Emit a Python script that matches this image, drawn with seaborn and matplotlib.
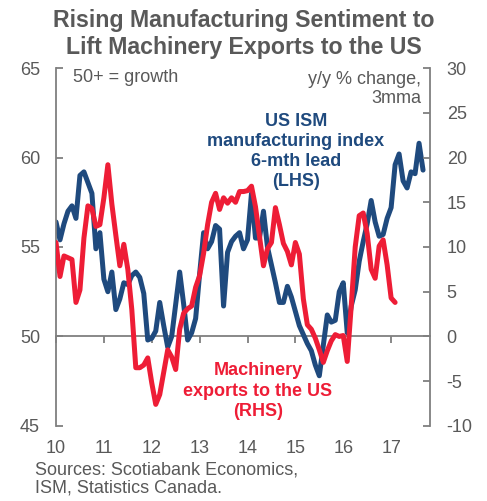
import numpy as np
import pandas as pd
import matplotlib
matplotlib.use("Agg")
import matplotlib.pyplot as plt
import seaborn as sns

# US ISM manufacturing index, shifted forward 6 months (monthly, from Jan 2010)
ism_lead = [
    56.4, 55.4, 56.3, 57.0, 57.3, 56.6, 59.0, 59.2, 58.6, 58.0, 54.9, 55.8,
    53.2, 52.5, 53.6, 51.5, 52.1, 53.0, 52.9, 53.4, 53.6, 53.3, 52.4, 49.8,
    49.9, 50.3, 51.9, 50.6, 49.4, 50.0, 51.8, 53.6, 51.8, 49.8, 50.2, 51.0,
    53.5, 55.8, 54.9, 55.3, 56.2, 56.0, 51.7, 54.7, 55.3, 55.6, 55.8, 54.9,
    55.4, 58.0, 55.5, 55.5, 57.0, 55.0, 54.0, 53.0, 51.9, 51.9, 52.8, 52.2,
    51.4, 50.6, 50.1, 49.6, 49.2, 48.4, 47.8, 49.5, 51.2, 50.8, 50.9, 52.5,
    53.0, 50.2, 51.7, 52.6, 54.2, 55.3, 56.3, 57.6, 56.4, 55.6, 55.7, 56.6,
    57.2, 59.6, 60.2, 58.7, 58.3, 59.2, 59.1, 60.8, 59.3,
]

# Canadian machinery exports to the US, y/y % change, 3mma (monthly, from Jan 2010)
machinery_exports = [
    10.5, 6.7, 9.0, 8.8, 8.6, 3.8, 5.2, 11.0, 14.6, 14.3, 12.3, 12.5,
    15.5, 19.2, 14.8, 11.3, 7.9, 10.3, 7.5, 3.0, -3.5, -3.5, -3.2, -2.4,
    -5.2, -7.6, -6.5, -4.0, -1.5, -2.3, -3.7, 0.8, 2.6, 3.1, 3.4, 5.5,
    6.8, 9.3, 12.5, 15.0, 16.0, 14.2, 15.5, 14.9, 15.5, 15.0, 16.2, 16.2,
    16.3, 16.8, 14.5, 11.2, 7.9, 9.8, 10.5, 14.4, 12.5, 10.4, 9.5, 8.0,
    10.5, 9.2, 4.2, 1.3, 0.8, -0.2, -1.5, -2.9, -1.6, -0.5, 0.2, 0.0,
    0.1, -2.8, 3.4, 10.0, 13.5, 13.8, 11.5, 7.5, 6.5, 10.1, 10.8, 8.0,
    4.3, 3.8,
]

year_ticks = [2010, 2011, 2012, 2013, 2014, 2015, 2016, 2017]
year_labels = ["10", "11", "12", "13", "14", "15", "16", "17"]
left_ticks = [45, 50, 55, 60, 65]
right_ticks = [-10, -5, 0, 5, 10, 15, 20, 25, 30]

ism_df = pd.DataFrame({
    "date": 2010 + np.arange(len(ism_lead)) / 12,
    "ism": ism_lead,
})
exp_df = pd.DataFrame({
    "date": 2010 + np.arange(len(machinery_exports)) / 12,
    "exports": machinery_exports,
})

BLUE = "#1f4a7e"
RED = "#ee1d36"
GREY = "#595959"
AXIS = "#7f7f7f"

sns.set_theme(style="white")
plt.rcParams["font.family"] = ["Liberation Sans", "DejaVu Sans"]

fig = plt.figure(figsize=(4.87, 5.01), dpi=100)
ax = fig.add_axes([0.115, 0.150, 0.768, 0.714])
ax2 = ax.twinx()

sns.lineplot(data=ism_df, x="date", y="ism", ax=ax, color=BLUE,
             linewidth=3.6, solid_joinstyle="round")
sns.lineplot(data=exp_df, x="date", y="exports", ax=ax2, color=RED,
             linewidth=3.6, solid_joinstyle="round")

ax.set_xlim(2010, 2017 + 39 / 48)
ax.set_ylim(45, 65)
ax2.set_ylim(-10, 30)
ax.set_xlabel("")
ax.set_ylabel("")
ax2.set_ylabel("")

# Spines: only the two vertical axes
for a in (ax, ax2):
    for side in ("top", "bottom"):
        a.spines[side].set_visible(False)
    for side in ("left", "right"):
        a.spines[side].set_color(AXIS)
        a.spines[side].set_linewidth(1.3)
ax.spines["right"].set_visible(False)
ax2.spines["left"].set_visible(False)

ax.set_yticks(left_ticks)
ax.tick_params(axis="y", direction="in", length=5, width=1.3, color=AXIS,
               labelsize=13, labelcolor=GREY, pad=11.5)
ax2.set_yticks(right_ticks)
ax2.set_yticklabels([str(t) for t in right_ticks])
ax2.tick_params(axis="y", direction="in", length=5, width=1.3, color=AXIS,
                labelsize=13, labelcolor=GREY, pad=12)

# Year labels along the bottom, tick marks on the 50 / 0 line
ax.set_xticks(year_ticks)
ax.set_xticklabels(year_labels)
ax.tick_params(axis="x", length=0, labelsize=13, labelcolor=GREY, pad=10.5)
ax.grid(False)
ax2.grid(False)

sec = ax.secondary_xaxis((50 - 45) / (65 - 45))
sec.set_xticks(year_ticks)
sec.set_xticklabels([])
sec.tick_params(axis="x", direction="out", length=5, width=1.3, color=AXIS)
sec.spines["bottom"].set_color(AXIS)
sec.spines["bottom"].set_linewidth(1.3)
for side in ("top", "left", "right"):
    sec.spines[side].set_visible(False)

# Titles and notes
fig.text(0.5, 1 - 34 / 501, "Rising Manufacturing Sentiment to\nLift Machinery Exports to the US",
         ha="center", va="center", fontsize=16.7, fontweight="bold", color=GREY,
         linespacing=1.2)
fig.text(73 / 487, 1 - 78 / 501, "50+ = growth", ha="left", va="center",
         fontsize=13, color=GREY)
fig.text(421 / 487, 1 - 89 / 501, "y/y % change,\n3mma", ha="right", va="center",
         fontsize=13, color=GREY, linespacing=1.15)
fig.text(296 / 487, 1 - 151.5 / 501, "US ISM\nmanufacturing index\n6-mth lead\n(LHS)",
         ha="center", va="center", fontsize=13, fontweight="bold", color=BLUE,
         linespacing=1.25)
fig.text(258 / 487, 1 - 391 / 501, "Machinery\nexports to the US\n(RHS)",
         ha="center", va="center", fontsize=13, fontweight="bold", color=RED,
         linespacing=1.27)
fig.text(35 / 487, 1 - 479 / 501, "Sources: Scotiabank Economics,\nISM, Statistics Canada.",
         ha="left", va="center", fontsize=13, color=GREY, linespacing=1.15)

fig.savefig("out.png", dpi=100)
